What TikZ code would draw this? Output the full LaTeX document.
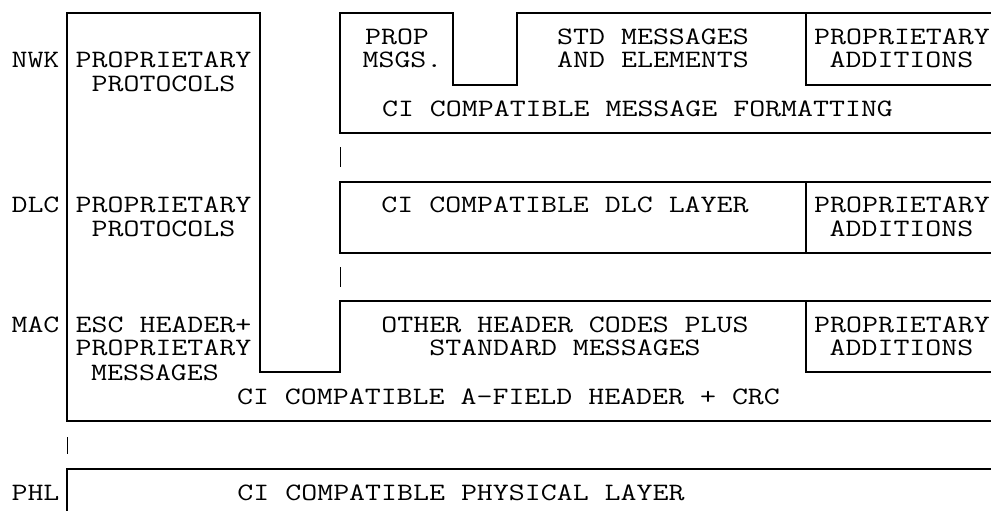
\documentclass[tikz,border=0pt]{standalone}
\usepackage{fontspec}
\begin{document}
\begin{tikzpicture}[x=1pt,y=-1pt,
  box/.style={line width=1.6pt,line join=miter},
  tick/.style={line width=0.8pt},
  lbl/.style={anchor=base,inner sep=0pt,text height=15pt,text depth=1pt,xscale=1.24,
    font=\fontsize{25}{24}\selectfont\ttfamily}]
\useasboundingbox (0,0) rectangle (991,511);
% NWK layer
\draw[box] (991,13) -- (517,13) -- (517,85) -- (453,85) -- (453,13) -- (340,13) -- (340,133) -- (991,133);
\draw[box] (806,13) -- (806,85) -- (991,85);
% DLC layer
\draw[box] (991,182) -- (340,182) -- (340,253) -- (991,253);
\draw[box] (806,182) -- (806,253);
% left proprietary column + MAC layer
\draw[box] (991,421) -- (67,421) -- (67,13) -- (260,13) -- (260,372) -- (340,372) -- (340,301) -- (991,301);
\draw[box] (806,301) -- (806,372) -- (991,372);
% PHL
\draw[box] (67,511) -- (67,469) -- (991,469);
% ticks
\draw[tick] (340,147) -- (340,167);
\draw[tick] (340,267) -- (340,287);
\draw[tick] (67,437) -- (67,454);
% labels
\node[lbl] (nwk) at (35.5,68) {NWK};
\node[lbl] (dlc) at (35.5,212) {DLC};
\node[lbl] (mac) at (35.5,332) {MAC};
\node[lbl] (phl) at (35.5,500) {PHL};
\node[lbl] (pp1a) at (163.5,68) {PROPRIETARY};
\node[lbl] (pp1b) at (163.5,92) {PROTOCOLS};
\node[lbl] (pp2a) at (163.5,212) {PROPRIETARY};
\node[lbl] (pp2b) at (163.5,236) {PROTOCOLS};
\node[lbl] (esca) at (163.5,332) {ESC HEADER+};
\node[lbl] (escb) at (163.5,355) {PROPRIETARY};
\node[lbl] (escc) at (155,380) {MESSAGES};
\node[lbl] (propa) at (397,45) {PROP};
\node[lbl] (propb) at (402.5,68) {MSGS.};
\node[lbl] (stda) at (653,45) {STD MESSAGES};
\node[lbl] (stdb) at (653,68) {AND ELEMENTS};
\node[lbl] (ad1a) at (902,45) {PROPRIETARY};
\node[lbl] (ad1b) at (901.5,68) {ADDITIONS};
\node[lbl] (cimsg) at (637.5,117) {CI COMPATIBLE MESSAGE FORMATTING};
\node[lbl] (cidlc) at (565,212) {CI COMPATIBLE DLC LAYER};
\node[lbl] (ad2a) at (902,212) {PROPRIETARY};
\node[lbl] (ad2b) at (901.5,236) {ADDITIONS};
\node[lbl] (otha) at (565,332) {OTHER HEADER CODES PLUS};
\node[lbl] (othb) at (565,355) {STANDARD MESSAGES};
\node[lbl] (ad3a) at (902,332) {PROPRIETARY};
\node[lbl] (ad3b) at (901.5,355) {ADDITIONS};
\node[lbl] (cimac) at (508.5,404) {CI COMPATIBLE A-FIELD HEADER + CRC};
\node[lbl] (ciphl) at (461,500) {CI COMPATIBLE PHYSICAL LAYER};
\end{tikzpicture}
\end{document}
